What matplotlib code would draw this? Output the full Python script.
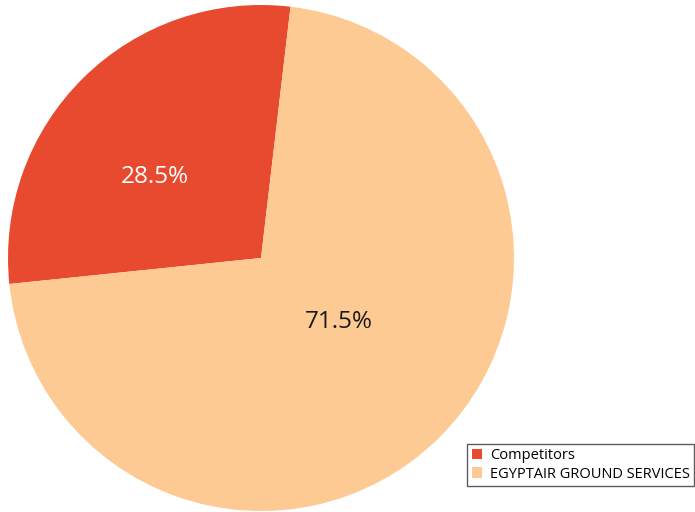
import numpy as np
import matplotlib.pyplot as plt
from matplotlib.patches import Patch

labels = ['Competitors', 'EGYPTAIR GROUND SERVICES']
shares = [28.5, 71.5]
colors = ['#E84A30', '#FDCA93']
text_colors = ['white', '#1a1a1a']

plt.rcParams['font.family'] = ['Open Sans', 'DejaVu Sans']

fig = plt.figure(figsize=(6.95, 5.12), dpi=100)
# pie centre ~ (261, 258) px, radius ~253 px
ax = fig.add_axes([8 / 695, 1 / 512, 506 / 695, 506 / 512])

start = 83.3
wedges, _ = ax.pie(shares, colors=colors, startangle=start, counterclock=True,
                   radius=1, wedgeprops=dict(linewidth=0))
ax.set_xlim(-1, 1)
ax.set_ylim(-1, 1)
ax.set_aspect('equal')

# percentage labels
dists = [0.53, 0.40]
ang_off = [8, 6]
theta0 = start
for i, s in enumerate(shares):
    span = s / 100 * 360
    mid = np.deg2rad(theta0 + span / 2 + ang_off[i])
    ax.text(dists[i] * np.cos(mid), dists[i] * np.sin(mid), f'{s:.1f}%',
            ha='center', va='center', fontsize=17.5, color=text_colors[i])
    theta0 += span

handles = [Patch(facecolor=c, edgecolor='none') for c in colors]
leg = fig.legend(handles, labels, loc='lower right', bbox_to_anchor=(694 / 695, 26 / 512),
                 frameon=True, fancybox=False, fontsize=10.5, handlelength=0.75,
                 handleheight=0.75, handletextpad=0.5, borderpad=0.3, labelspacing=0.25,
                 borderaxespad=0)
leg.get_frame().set_edgecolor('#333333')
leg.get_frame().set_linewidth(1.0)

fig.savefig('out.png', dpi=100)
